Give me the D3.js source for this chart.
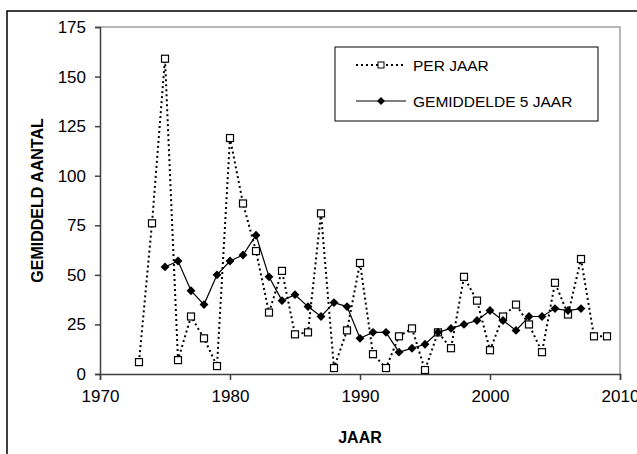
<html>
	<head>
		<meta charset="utf-8">
		<script src="https://d3js.org/d3.v7.min.js"></script>
		<style>
			body { margin: 0; background: #fff; }
			text { font-family: "Liberation Sans", Arial, sans-serif; fill: #000; }
		</style>
	</head>
	<body>
		<svg id="svg" width="637" height="454"></svg>
	<script>
'use strict';

// jaren en waarden
const years = d3.range(1973, 2010);
const perJaar = [6, 76, 159, 7, 29, 18, 4, 119, 86, 62, 31, 52, 20, 21, 81, 3, 22, 56, 10, 3,
	19, 23, 2, 21, 13, 49, 37, 12, 29, 35, 25, 11, 46, 30, 58, 19, 19];
const avgYears = d3.range(1975, 2008);
const gemiddelde5 = [54, 57, 42, 35, 50, 57, 60, 70, 49, 37, 40, 34, 29, 36, 34, 18, 21, 21,
	11, 13, 15, 21, 23, 25, 27, 32, 27, 22, 29, 29, 33, 32, 33];
const xTicks = [1970, 1980, 1990, 2000, 2010];
const yTicks = [0, 25, 50, 75, 100, 125, 150, 175];

const svg = d3.select('#svg');
const plotL = 100, plotR = 620, plotT = 27, plotB = 374;

const x = d3.scaleLinear().domain([1970, 2010]).range([plotL, plotR]);
const y = d3.scaleLinear().domain([0, 175]).range([plotB, plotT]);

// outer frame
svg.append('rect')
	.attr('x', 7).attr('y', 11).attr('width', 660).attr('height', 480)
	.attr('fill', 'none').attr('stroke', '#000').attr('stroke-width', 1.5);

// plot area border (top/right grey)
svg.append('path')
	.attr('d', `M${plotL},${plotT}H${plotR}V${plotB}`)
	.attr('fill', 'none').attr('stroke', '#a0a0a0').attr('stroke-width', 1.5);

const xAxis = svg.append('g')
	.attr('transform', `translate(0,${plotB})`)
	.call(d3.axisBottom(x).tickValues(xTicks).tickFormat(d3.format('d')).tickSize(6).tickPadding(10));
const yAxis = svg.append('g')
	.attr('transform', `translate(${plotL},0)`)
	.call(d3.axisLeft(y).tickValues(yTicks).tickSize(5).tickPadding(9));

for (const ax of [xAxis, yAxis]) {
	ax.select('.domain').attr('stroke', '#404040').attr('stroke-width', 1.5);
	ax.selectAll('.tick line').attr('stroke', '#404040').attr('stroke-width', 1.5);
	ax.selectAll('.tick text').attr('font-size', 17).attr('font-family', '"Liberation Sans", Arial, sans-serif').attr('fill', '#000');
}

// titles
svg.append('text')
	.attr('x', (plotL + plotR) / 2).attr('y', 443)
	.attr('text-anchor', 'middle').attr('font-weight', 'bold').attr('font-size', 16)
	.text('JAAR');
svg.append('text')
	.attr('transform', `translate(43,${(plotT + plotB) / 2}) rotate(-90)`)
	.attr('text-anchor', 'middle').attr('font-weight', 'bold').attr('font-size', 16)
	.text('GEMIDDELD AANTAL');

// per jaar (dotted + squares)
const line1 = d3.line().x((d, i) => x(years[i])).y(d => y(d));
svg.append('path')
	.attr('d', line1(perJaar))
	.attr('fill', 'none').attr('stroke', '#000').attr('stroke-width', 2)
	.attr('stroke-dasharray', '2,3');

// gemiddelde 5 jaar (solid + diamonds)
const line2 = d3.line().x((d, i) => x(avgYears[i])).y(d => y(d));
svg.append('path')
	.attr('d', line2(gemiddelde5))
	.attr('fill', 'none').attr('stroke', '#000').attr('stroke-width', 1.2);

svg.append('g').selectAll('rect')
	.data(perJaar)
	.join('rect')
	.attr('x', (d, i) => x(years[i]) - 3.5)
	.attr('y', d => y(d) - 3.5)
	.attr('width', 7).attr('height', 7)
	.attr('fill', '#fff').attr('stroke', '#000').attr('stroke-width', 1.2);

const diamond = d3.symbol().type(d3.symbolDiamond2).size(50);
svg.append('g').selectAll('path')
	.data(gemiddelde5)
	.join('path')
	.attr('d', diamond)
	.attr('transform', (d, i) => `translate(${x(avgYears[i])},${y(d)})`)
	.attr('fill', '#000');

// legend
const lg = svg.append('g');
lg.append('rect')
	.attr('x', 335).attr('y', 47).attr('width', 263).attr('height', 74)
	.attr('fill', '#fff').attr('stroke', '#000').attr('stroke-width', 1);
lg.append('line')
	.attr('x1', 356).attr('x2', 406).attr('y1', 65).attr('y2', 65)
	.attr('stroke', '#000').attr('stroke-width', 2).attr('stroke-dasharray', '2,3');
lg.append('rect')
	.attr('x', 378).attr('y', 62).attr('width', 6).attr('height', 6)
	.attr('fill', '#fff').attr('stroke', '#000').attr('stroke-width', 1);
lg.append('text').attr('x', 413).attr('y', 70.5).attr('font-size', 15.5).text('PER JAAR');
lg.append('line')
	.attr('x1', 356).attr('x2', 406).attr('y1', 101).attr('y2', 101)
	.attr('stroke', '#000').attr('stroke-width', 1.2);
lg.append('path')
	.attr('d', d3.symbol().type(d3.symbolDiamond2).size(40))
	.attr('transform', 'translate(381,101)')
	.attr('fill', '#000');
lg.append('text').attr('x', 413).attr('y', 106.5).attr('font-size', 15.5).text('GEMIDDELDE 5 JAAR');
	</script>
	</body>
</html>
